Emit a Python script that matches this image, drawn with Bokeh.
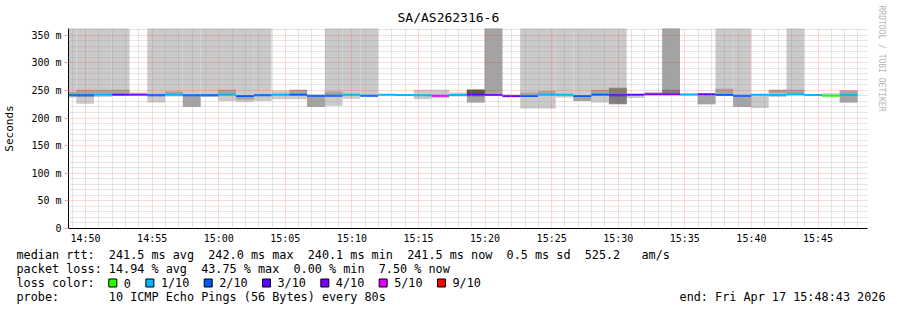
from bokeh.plotting import figure
from bokeh.models import Range1d, FixedTicker, Title, ColumnDataSource
from bokeh.layouts import column
from bokeh.embed import file_html
from bokeh.resources import INLINE
from bokeh.core.properties import value

# ---------------- data ----------------
TITLE = "SA/AS262316-6"
RANGE_START = "14:48:43"
RANGE_END = "15:48:43"
STEP_SECONDS = 80
STEP_START = [
    "14:47:58", "14:49:18", "14:50:38", "14:51:58", "14:53:18", "14:54:38", "14:55:58", "14:57:18", "14:58:38", "14:59:58",
    "15:01:18", "15:02:38", "15:03:58", "15:05:18", "15:06:38", "15:07:58", "15:09:18", "15:10:38", "15:11:58", "15:13:18",
    "15:14:38", "15:15:58", "15:17:18", "15:18:38", "15:19:58", "15:21:18", "15:22:38", "15:23:58", "15:25:18", "15:26:38",
    "15:27:58", "15:29:18", "15:30:38", "15:31:58", "15:33:18", "15:34:38", "15:35:58", "15:37:18", "15:38:38", "15:39:58",
    "15:41:18", "15:42:38", "15:43:58", "15:45:18", "15:46:38",
]
MEDIAN_MS = [
    241, 241, 242, 242, 242, 241, 242, 241, 241, 242,
    240, 241, 242, 242, 240.5, 240.5, 242, 240.5, 242, 241.5,
    241, 240.5, 241.5, 242, 241.5, 240, 240, 242, 242, 240,
    242, 241, 242, 243, 243, 242.5, 243, 241.5, 240.5, 242,
    241.5, 243, 241.5, 240.5, 241.5,
]
LOSS_TENTHS = [
    2, 2, 1, 3, 4, 2, 1, 2, 2, 1,
    2, 2, 1, 2, 2, 2, 1, 2, 1, 1,
    1, 5, 1, 3, 4, 4, 2, 1, 1, 2,
    2, 3, 3, 4, 4, 1, 3, 2, 2, 1,
    1, 1, 1, 0, 1,
]
OFF = 480  # ping far above the chart's top
SMOKE_L1 = [
    (237, OFF), (226, OFF), (238, OFF), (240, OFF), (242, 246), (228, OFF), (239, OFF), (220, OFF), (238, OFF), (231, OFF),
    (229, OFF), (231, OFF), (234, 250), (234, 251), (220, 242), (222, OFF), (235, OFF), (239, OFF), (241, 243), (240, 243),
    (234, 251), (236, 251), (239, 246), (228, 251), (240, OFF), (237, 243), (217, OFF), (217, OFF), (237, OFF), (231, OFF),
    (228, OFF), (225, OFF), (236, 243), (243, 247), (243, OFF), (241, 244), (225, 242), (240, OFF), (220, OFF), (218, 241),
    (238, 251), (241, OFF), (241, 243), (240, 245), (228, 250),
]
SMOKE_L2 = [
    (240, 247), (238, 251), (244, 251), (243, 251), None, (240, 244), (243, 248), (220, 240), (240, 243), (243, 251),
    (233, 240), (240, 243), None, (242, 251), (220, 241), (240, 248), None, None, None, None,
    None, None, None, (228, 251), (242, OFF), None, (241, 246), (243, 249), None, (231, 240),
    (243, 251), (225, 255), None, None, (243, OFF), None, (225, 241), (243, 253), (220, 240), None,
    (245, 251), (245, 251), None, None, (228, 250),
]
SMOKE_L3 = [None] * 23 + [(239, 251)] + [None] * 7 + [(226, 254)] + [None] * 2 + [(245, 251)] + [None] * 10
SMOKE_L4 = [None] * 23 + [(243, 251)] + [None] * 21
SMOKE_COLORS = ["#cacaca", "#a4a4a4", "#7e7e7e", "#585858"]

LOSS_LABELS = ["0", "1/10", "2/10", "3/10", "4/10", "5/10", "9/10"]
LOSS_KEYS = [0, 1, 2, 3, 4, 5, 9]
LOSS_COLORS = ["#26ff00", "#00b8ff", "#0059ff", "#5e00ff", "#7e00ff", "#dd00ff", "#ff0000"]

X_TICK_LABELS = ["14:50", "14:55", "15:00", "15:05", "15:10", "15:15",
                 "15:20", "15:25", "15:30", "15:35", "15:40", "15:45"]
Y_TICKS = [0, 50, 100, 150, 200, 250, 300, 350]
Y_TICK_LABELS = ["0", "50 m", "100 m", "150 m", "200 m", "250 m", "300 m", "350 m"]
Y_MAX = 362

LEGEND_LINES = [
    "median rtt:  241.5 ms avg  242.0 ms max  240.1 ms min  241.5 ms now  0.5 ms sd  525.2   am/s",
    "packet loss: 14.94 % avg  43.75 % max  0.00 % min  7.50 % now",
    "loss color:",
    "probe:       10 ICMP Echo Pings (56 Bytes) every 80s",
]
END_TEXT = "end: Fri Apr 17 15:48:43 2026"
WATERMARK = "RRDTOOL / TOBI OETIKER"

MONO = "DejaVu Sans Mono"
NB = "\u00a0"
LEG_FS = "11.8px"


def keep_spaces(s):
    return s.replace(" ", NB)


def to_min(s):
    h, m, sec = (int(v) for v in s.split(":"))
    return h * 60 + m + sec / 60.0


x0, x1 = to_min(RANGE_START), to_min(RANGE_END)
starts = [to_min(s) for s in STEP_START]
ends = [s + STEP_SECONDS / 60.0 for s in starts]

# layout geometry (pixels)
W, H_MAIN, H_LEG = 897, 246, 64
FL, FR, FT, FB = 67, 867, 28, 228

p = figure(width=W, height=H_MAIN, x_range=Range1d(x0, x1), y_range=Range1d(0, Y_MAX),
           output_backend="svg", toolbar_location=None, title=TITLE,
           min_border_left=FL, min_border_right=W - FR, min_border_top=FT,
           min_border_bottom=H_MAIN - FB)
p.outline_line_color = None
p.background_fill_color = "white"
p.border_fill_color = "white"
p.title.align = "left"
p.title.offset = 329
p.title.text_font = MONO
p.title.text_font_size = "13px"
p.title.text_font_style = "normal"
p.title.text_color = "black"
p.title.standoff = 8

wm = Title(text=WATERMARK, align="left", offset=-23, text_font=MONO, text_font_size="8px",
           text_font_style="normal", text_color="#b4b4b4", standoff=19)
p.add_layout(wm, "right")

# smoke
for level, color in zip([SMOKE_L1, SMOKE_L2, SMOKE_L3, SMOKE_L4], SMOKE_COLORS):
    idx = [i for i, v in enumerate(level) if v is not None]
    src = ColumnDataSource(dict(
        left=[starts[i] for i in idx], right=[ends[i] for i in idx],
        bottom=[level[i][0] for i in idx], top=[level[i][1] for i in idx]))
    p.quad(left="left", right="right", bottom="bottom", top="top", source=src,
           fill_color=color, line_color=None)

# median lines coloured by loss
color_of = dict(zip(LOSS_KEYS, LOSS_COLORS))
msrc = ColumnDataSource(dict(x0=starts, x1=ends, y=MEDIAN_MS,
                             c=[color_of[l] for l in LOSS_TENTHS]))
p.segment(x0="x0", y0="y", x1="x1", y1="y", line_color="c", line_width=2, source=msrc)

# ticks & grid
x_ticks = [to_min(s + ":00") for s in X_TICK_LABELS]
x_minor = [m for m in range(int(x0) + 1, int(x1) + 1) if m not in x_ticks]
y_minor = [v for v in range(10, Y_MAX, 10) if v not in Y_TICKS]
xt = FixedTicker(ticks=x_ticks, minor_ticks=x_minor)
yt = FixedTicker(ticks=Y_TICKS, minor_ticks=y_minor)
p.xaxis.ticker = xt
p.yaxis.ticker = yt
p.xgrid.ticker = xt
p.ygrid.ticker = yt
p.xaxis.major_label_overrides = {t: l for t, l in zip(x_ticks, X_TICK_LABELS)}
p.yaxis.major_label_overrides = {t: l for t, l in zip(Y_TICKS, Y_TICK_LABELS)}

for g in (p.xgrid, p.ygrid):
    g.level = "guide"
    g.grid_line_color = "#ff0000"
    g.grid_line_alpha = 0.3
    g.grid_line_dash = "1 1"
    g.minor_grid_line_color = "#9a9a9a"
    g.minor_grid_line_alpha = 0.5
    g.minor_grid_line_dash = "1 1"

for ax in (p.xaxis, p.yaxis):
    ax.axis_line_color = "black"
    ax.major_label_text_font = MONO
    ax.major_label_text_font_size = "10px"
    ax.major_label_text_color = "black"
    ax.minor_tick_in = 0
    ax.minor_tick_out = 0
    ax.major_tick_in = 0
p.xaxis.major_tick_out = 0
p.xaxis.major_label_standoff = 4
p.yaxis.major_tick_out = 4
p.yaxis.major_tick_line_color = "#f0a0a0"
p.yaxis.major_label_standoff = 3
p.yaxis.axis_label = "Seconds"
p.yaxis.axis_label_text_font = MONO
p.yaxis.axis_label_text_font_size = "11px"
p.yaxis.axis_label_text_font_style = "normal"
p.yaxis.axis_label_text_color = "black"
p.yaxis.axis_label_standoff = 12

# ---------------- legend area ----------------
q = figure(width=W, height=H_LEG, x_range=Range1d(0, W), y_range=Range1d(H_MAIN + H_LEG, H_MAIN),
           output_backend="svg", toolbar_location=None, min_border=0,
           x_axis_location=None, y_axis_location=None)
q.outline_line_color = None
q.grid.visible = False
q.background_fill_color = "white"
q.border_fill_color = "white"
for fig in (p, q):
    if "frame_align" in fig.properties():
        fig.frame_align = False

CW = 7.08
ROWS_Y = [254.5, 268.5, 282.5, 296.5]
q.text(x=[16] * 4, y=ROWS_Y, text=[keep_spaces(s) for s in LEGEND_LINES], text_baseline="middle",
       text_font=value(MONO), text_font_size=value(LEG_FS), text_color="black")
q.text(x=[885], y=[ROWS_Y[3]], text=[keep_spaces(END_TEXT)], text_baseline="middle", text_align="right",
       text_font=value(MONO), text_font_size=value(LEG_FS), text_color="black")

sq_x, lab_x = [], []
cur = 108.3
for lab in LOSS_LABELS:
    sq_x.append(cur)
    lab_x.append(cur + 15)
    cur = cur + 15 + len(lab) * CW + 15
q.quad(left=sq_x, right=[s + 8 for s in sq_x], top=[ROWS_Y[2] - 4] * len(sq_x),
       bottom=[ROWS_Y[2] + 4] * len(sq_x), fill_color=LOSS_COLORS, line_color="black", line_width=1)
q.text(x=lab_x, y=[ROWS_Y[2]] * len(lab_x), text=LOSS_LABELS, text_baseline="middle",
       text_font=value(MONO), text_font_size=value(LEG_FS), text_color="black")

layout = column(p, q, spacing=0)
open("out.html", "w").write(file_html(layout, INLINE))
